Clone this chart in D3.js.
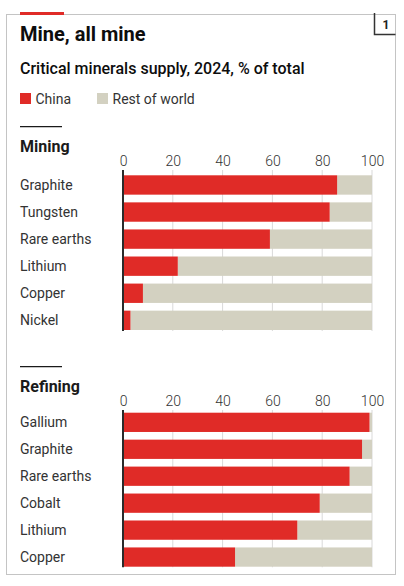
<!DOCTYPE html>
<html>
<head>
<meta charset="utf-8">
<script src="https://cdn.jsdelivr.net/npm/d3@7"></script>
<style>
  html, body { margin: 0; padding: 0; background: #fff; }
  svg { display: block; font-family: Roboto, "Liberation Sans", sans-serif; }
</style>
</head>
<body>
<svg id="chart" width="404" height="586"></svg>
<script>
// ---- data ----
const title = "Mine, all mine";
const subtitle = "Critical minerals supply, 2024, % of total";
const seriesNames = ["China", "Rest of world"];
const tickValues = [0, 20, 40, 60, 80, 100];

const miningCategories = ["Graphite", "Tungsten", "Rare earths", "Lithium", "Copper", "Nickel"];
const miningChina = [86, 83, 59, 22, 8, 3];

const refiningCategories = ["Gallium", "Graphite", "Rare earths", "Cobalt", "Lithium", "Copper"];
const refiningChina = [99, 96, 91, 79, 70, 45];

// ---- style ----
const RED = "#e02b27";
const BEIGE = "#d3d1c1";
const GRID = "#d9d9d9";
const TEXT = "#333333";

const svg = d3.select("#chart");

// frame
svg.append("rect").attr("x", 6.5).attr("y", 14.5).attr("width", 389).attr("height", 560)
  .attr("fill", "none").attr("stroke", "#c4c4c4").attr("stroke-width", 1);
// red tag
svg.append("rect").attr("x", 20).attr("y", 12).attr("width", 44).attr("height", 3).attr("fill", RED);
// number box
svg.append("path").attr("d", "M374.5,13 V34.5 H395.5").attr("fill", "none")
  .attr("stroke", "#333").attr("stroke-width", 1.5);
svg.append("text").attr("x", 386).attr("y", 28.5).attr("text-anchor", "middle")
  .attr("font-size", 12).attr("font-weight", 700).attr("fill", "#222").text("1");

// titles
svg.append("text").attr("x", 20).attr("y", 41).attr("font-size", 20).attr("font-weight", 700)
  .attr("fill", "#0d0d0d").text(title);
svg.append("text").attr("x", 20).attr("y", 74).attr("font-size", 16).attr("font-weight", 500)
  .attr("fill", "#0d0d0d").text(subtitle);

// legend
const legend = svg.append("g");
const legendX = [20, 97];
seriesNames.forEach((n, i) => {
  legend.append("rect").attr("x", legendX[i]).attr("y", 93).attr("width", 11).attr("height", 11)
    .attr("fill", i === 0 ? RED : BEIGE);
  legend.append("text").attr("x", legendX[i] + 15.5).attr("y", 104).attr("font-size", 14)
    .attr("fill", TEXT).text(n);
});

// shared x scale
const x = d3.scaleLinear().domain([0, 100]).range([123, 372]);

function drawSection(name, cats, vals, o) {
  const g = svg.append("g");
  // short rule
  g.append("line").attr("x1", 20).attr("x2", 62).attr("y1", o.rule).attr("y2", o.rule)
    .attr("stroke", "#1a1a1a").attr("stroke-width", 1.3);
  g.append("text").attr("x", 20).attr("y", o.titleY).attr("font-size", 16).attr("font-weight", 700)
    .attr("fill", "#1a1a1a").text(name);

  const y = d3.scaleBand().domain(cats).range([o.barTop, o.barBottom]).paddingInner(0.285).paddingOuter(0);

  // gridlines
  g.append("g").selectAll("line").data(tickValues.filter(t => t > 0)).join("line")
    .attr("x1", d => x(d)).attr("x2", d => x(d))
    .attr("y1", o.axisTop).attr("y2", o.axisBottom)
    .attr("stroke", GRID).attr("stroke-width", 1);

  // tick labels through d3 axis
  const axis = d3.axisTop(x).tickValues(tickValues).tickSize(0).tickPadding(0).tickFormat(d3.format("d"));
  const ax = g.append("g").attr("transform", `translate(0,${o.tickBase})`).call(axis);
  ax.select(".domain").remove();
  ax.selectAll("text").attr("font-size", 14).attr("font-family", "Roboto, sans-serif")
    .attr("font-weight", 300).attr("fill", TEXT).attr("dy", 0);

  // rest-of-world bars (full)
  g.append("g").selectAll("rect").data(cats).join("rect")
    .attr("x", x(0)).attr("y", d => y(d)).attr("height", y.bandwidth())
    .attr("width", (d, i) => x(100) - x(vals[i])).attr("x", (d, i) => x(vals[i]))
    .attr("fill", BEIGE);
  // china bars
  g.append("g").selectAll("rect").data(cats).join("rect")
    .attr("x", x(0)).attr("y", d => y(d)).attr("height", y.bandwidth())
    .attr("width", (d, i) => x(vals[i]) - x(0))
    .attr("fill", RED);

  // category labels
  g.append("g").selectAll("text").data(cats).join("text")
    .attr("x", 20).attr("y", d => y(d) + y.bandwidth() / 2).attr("dy", "0.35em")
    .attr("font-size", 14).attr("fill", TEXT).text(d => d);

  // zero axis line
  g.append("line").attr("x1", x(0)).attr("x2", x(0)).attr("y1", o.axisTop).attr("y2", o.axisBottom)
    .attr("stroke", "#2b2b2b").attr("stroke-width", 2);
}

drawSection("Mining", miningCategories, miningChina,
  { rule: 126.7, titleY: 151.5, tickBase: 166, axisTop: 170, axisBottom: 331, barTop: 175.3, barBottom: 330 });
drawSection("Refining", refiningCategories, refiningChina,
  { rule: 366.7, titleY: 391.5, tickBase: 406, axisTop: 410, axisBottom: 567.3, barTop: 412.7, barBottom: 566.7 });
</script>
</body>
</html>
